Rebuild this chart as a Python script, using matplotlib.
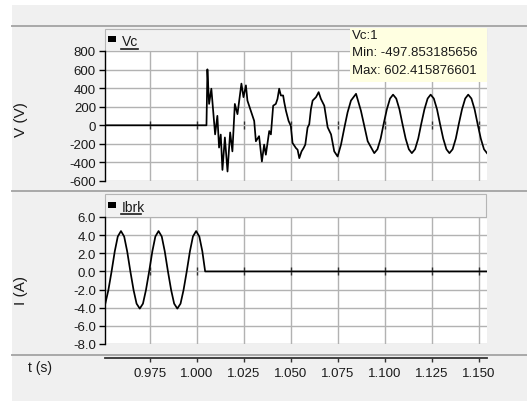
import matplotlib
matplotlib.use('Agg')
import matplotlib.pyplot as plt
from matplotlib.patches import Rectangle
from matplotlib.lines import Line2D

plt.rcParams['axes.unicode_minus'] = False

# capacitor voltage Vc (V)
t_vc = [0.9510, 1.0050, 1.0053, 1.0055, 1.0064, 1.0076, 1.0096, 1.0108, 1.0117,
        1.0126, 1.0135, 1.0148, 1.0162, 1.0176, 1.0188, 1.0201, 1.0215, 1.0236,
        1.0247, 1.0260, 1.0268, 1.0286, 1.0304, 1.0313, 1.0330, 1.0345, 1.0357,
        1.0366, 1.0384, 1.0393, 1.0405, 1.0419, 1.0428, 1.0437, 1.0446, 1.0458,
        1.0464, 1.0473, 1.0487, 1.0499, 1.0508, 1.0526, 1.0535, 1.0544, 1.0556,
        1.0567, 1.0576, 1.0588, 1.0597, 1.0606, 1.0615, 1.0633, 1.0647, 1.0659,
        1.0677, 1.0695, 1.0713, 1.0730, 1.0748, 1.0766, 1.0784, 1.0801, 1.0819,
        1.0846, 1.0872, 1.0890, 1.0908, 1.0943,
        1.0960, 1.0977, 1.0993, 1.1010, 1.1027, 1.1043, 1.1060, 1.1077, 1.1093,
        1.1110, 1.1127, 1.1143, 1.1160, 1.1177, 1.1193, 1.1210, 1.1227, 1.1243,
        1.1260, 1.1277, 1.1293, 1.1310, 1.1327, 1.1343, 1.1360, 1.1377, 1.1393,
        1.1410, 1.1427, 1.1443, 1.1460, 1.1477, 1.1493, 1.1510, 1.1527, 1.1543]
vc = [0, 0, 350, 602.4, 230, 394, -98, 102, -240,
      -100, -481, -131, -497.9, -77, -281, 230, 120, 449,
      303, 430, 266, 156, 47, -172, -117, -390, -208,
      -317, -62, -98, 211, 230, 284, 394, 321, 321,
      248, 157, 47, -7, -190, -245, -263, -354, -281,
      -245, -208, -25, 11, 175, 266, 303, 357, 284,
      211, -22, -98, -281, -336, -208, -25, 139, 266,
      339, 157, -7, -172, -300,
      -258, -143, 15, 172, 288, 330, 288, 172, 15,
      -143, -258, -300, -258, -143, 15, 172, 288, 330,
      288, 172, 15, -143, -258, -300, -258, -143, 15,
      172, 288, 330, 288, 172, 15, -143, -258, -300]

# breaker current Ibrk (A)
t_ib = [0.9510, 0.9528, 0.9545, 0.9562, 0.9578, 0.9595, 0.9612, 0.9628, 0.9645,
        0.9662, 0.9678, 0.9695, 0.9712, 0.9728, 0.9745, 0.9762, 0.9778, 0.9795,
        0.9812, 0.9828, 0.9845, 0.9862, 0.9878, 0.9895, 0.9912, 0.9928, 0.9945,
        0.9962, 0.9978, 0.9995, 1.0012, 1.0028, 1.0043, 1.1543]
ib = [-3.7, -2.05, 0.0, 2.22, 3.85, 4.45, 3.85, 2.22, 0.0,
      -2.05, -3.55, -4.1, -3.55, -2.05, 0.0, 2.22, 3.85, 4.45,
      3.85, 2.22, 0.0, -2.05, -3.55, -4.1, -3.55, -2.05, 0.0,
      2.22, 3.85, 4.45, 3.85, 2.22, 0.0, 0.0]

t_ticks = [0.975, 1.000, 1.025, 1.050, 1.075, 1.100, 1.125, 1.150]
t_labels = ['0.975', '1.000', '1.025', '1.050', '1.075', '1.100', '1.125', '1.150']
v_ticks = [-600, -400, -200, 0, 200, 400, 600, 800]
i_ticks = [-8, -6, -4, -2, 0, 2, 4, 6]
tooltip = ['Vc:1', 'Min: -497.853185656', 'Max: 602.415876601']

W, H = 527, 402
def fx(x):
    return x / W
def fy(y):
    return 1 - y / H

fig = plt.figure(figsize=(W / 100, H / 100), dpi=100, facecolor='white')
bg = '#f0f0f0'
fig.patches.append(Rectangle((fx(12), 0), 1 - fx(12), fy(6), transform=fig.transFigure,
                             fc=bg, ec='none', zorder=-10))
for y in [27, 192, 356]:
    fig.add_artist(Line2D([fx(12), 1], [fy(y), fy(y)], color='#a9a9a9', lw=1.4))

# panel headers
for y0, y1 in [(30, 52), (195, 218)]:
    fig.patches.append(Rectangle((fx(105), fy(y1)), fx(486) - fx(105), fy(y0) - fy(y1),
                                 transform=fig.transFigure, fc='#f2f2f2', ec='#b5b5b5',
                                 lw=0.8, zorder=-5))

xl = (0.951, 1.1543)
lab_font = 'Liberation Sans'
ink = '#1a1a1a'

def panel(rect, t, y, ylim, yticks, ylab, fmt):
    ax = fig.add_axes(rect)
    ax.set_facecolor('white')
    ax.plot(t, y, color='black', lw=1.25, zorder=3)
    ax.set_xlim(*xl)
    ax.set_ylim(*ylim)
    ax.set_xticks(t_ticks)
    ax.set_yticks(yticks)
    ax.set_yticklabels([fmt.format(v) for v in yticks], fontsize=9.5, family=lab_font,
                       color=ink)
    ax.grid(True, color='#b2b2b2', lw=1.0, zorder=1)
    ax.set_axisbelow(True)
    for s in ['top', 'right']:
        ax.spines[s].set_visible(False)
    ax.spines['left'].set_color('black')
    ax.spines['left'].set_linewidth(1.0)
    ax.spines['bottom'].set_position(('data', 0))
    ax.spines['bottom'].set_color('none')
    ax.tick_params(axis='x', direction='inout', length=6, width=1.0, color='#303030',
                   labelbottom=False)
    ax.tick_params(axis='y', direction='out', length=4, width=1.0, pad=2.5)
    ax.set_ylabel(ylab, fontsize=11, family=lab_font, color=ink)
    return ax

ax1 = panel([fx(105), fy(182), fx(487) - fx(105), fy(52) - fy(182)],
            t_vc, vc, (-600, 800), v_ticks, 'V (V)', '{:d}')
ax2 = panel([fx(105), fy(345), fx(487) - fx(105), fy(218) - fy(345)],
            t_ib, ib, (-8, 6), i_ticks, 'I (A)', '{:.1f}')
ax1.yaxis.set_label_coords(fx(28), fy(120), transform=fig.transFigure)
ax2.yaxis.set_label_coords(fx(28), fy(291), transform=fig.transFigure)

# legend entries in headers
for name, ytop, ytxt, yul in [('Vc', 37, 41.5, 49.5), ('Ibrk', 203, 208, 214.5)]:
    fig.patches.append(Rectangle((fx(108), fy(ytop + 6)), fx(8), fy(0) - fy(6),
                                 transform=fig.transFigure, fc='black', ec='none'))
    fig.text(fx(122), fy(ytxt), name, fontsize=10, family=lab_font,
             va='center', ha='left', color=ink)
    wpx = 17 if name == 'Vc' else 20
    fig.add_artist(Line2D([fx(121), fx(121 + wpx)], [fy(yul), fy(yul)], color=ink, lw=1.2))

# time axis
ax3 = fig.add_axes([fx(105), fy(359), fx(487) - fx(105), 0.001])
ax3.set_facecolor('none')
ax3.set_xlim(*xl)
ax3.set_yticks([])
ax3.set_xticks(t_ticks)
ax3.set_xticklabels(t_labels, fontsize=9.5, family=lab_font, color=ink)
for s in ['top', 'right', 'left']:
    ax3.spines[s].set_visible(False)
ax3.spines['bottom'].set_color('#333333')
ax3.spines['bottom'].set_linewidth(1.3)
ax3.tick_params(axis='x', direction='out', length=3, width=1.0, color='#333333', pad=3.5)
fig.text(fx(40), fy(368), 't (s)', fontsize=10, family=lab_font, ha='center', va='center',
         color=ink)

# tooltip
fig.patches.append(Rectangle((fx(350), fy(83)), fx(487) - fx(350), fy(29) - fy(83),
                             transform=fig.transFigure, fc='#ffffe1', ec='none', zorder=5))
for k, line in enumerate(tooltip):
    fig.text(fx(352), fy(36 + 17.5 * k), line, fontsize=9.5, family=lab_font,
             ha='left', va='center', color=ink, zorder=6)

fig.savefig('out.png', dpi=100)
